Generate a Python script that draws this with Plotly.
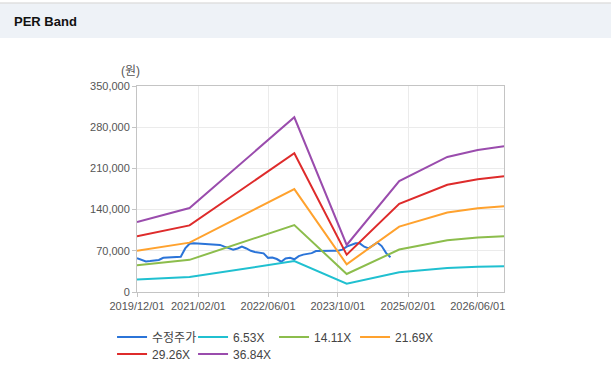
import plotly.graph_objects as go

# ---- data ----
band_dates = ["2019-12-01", "2020-12-01", "2022-12-01", "2023-12-01",
              "2024-12-01", "2025-11-01", "2026-06-01", "2026-12-01"]
band_653 = [21100, 25300, 52600, 14200, 33400, 40700, 42800, 43900]
band_1411 = [45600, 54600, 113700, 30600, 72200, 87900, 92400, 94800]
band_2169 = [70100, 83900, 174800, 47100, 111100, 135100, 142100, 145800]
band_2926 = [94500, 113200, 235800, 63500, 149800, 182300, 191700, 196600]
band_3684 = [119000, 142600, 296900, 79900, 188600, 229500, 241300, 247600]

price_dates = [f"{2019 + (11 + m) // 12}-{(11 + m) % 12 + 1:02d}-01" for m in range(59)]
price_values = [57300, 55000, 52000, 52500, 53500, 54500, 58000, 58500, 59000, 59000,
                60000, 74000, 82000, 83000, 82700, 82000, 81000, 81000, 81000, 80000,
                77000, 74500, 72000, 74000, 77000, 74000, 70000, 68000, 67000, 65700,
                58000, 58500, 56000, 51500, 57000, 58000, 55600, 61000, 63500, 65000,
                66000, 69500, 70000, 70200, 70200, 70200, 70200, 72000, 77000, 80000,
                82700, 82700, 77000, 74200, 79000, 84000, 78000, 66000, 59000]

x_tick_vals = ["2019-12-01", "2021-02-01", "2022-06-01", "2023-10-01", "2025-02-01", "2026-06-01"]
x_tick_text = ["2019/12/01", "2021/02/01", "2022/06/01", "2023/10/01", "2025/02/01", "2026/06/01"]
y_tick_vals = [0, 70000, 140000, 210000, 280000, 350000]

series = [
    ("수정주가", price_dates, price_values, "#2b74d8", "legend"),
    ("6.53X", band_dates, band_653, "#20c0d0", "legend"),
    ("14.11X", band_dates, band_1411, "#8cbd4c", "legend"),
    ("21.69X", band_dates, band_2169, "#ffa22e", "legend"),
    ("29.26X", band_dates, band_2926, "#de2b2b", "legend2"),
    ("36.84X", band_dates, band_3684, "#9a4cad", "legend2"),
]

FONT = "Liberation Sans, Arial, Noto Sans CJK KR, sans-serif"

fig = go.Figure()
for name, xs, ys, color, lg in series:
    fig.add_trace(go.Scatter(x=xs, y=ys, name=name, mode="lines", legend=lg,
                             line=dict(color=color, width=2)))

legend_common = dict(orientation="h", x=-0.068, xanchor="left", yanchor="middle",
                     entrywidth=36, entrywidthmode="pixels", itemwidth=30,
                     font=dict(family=FONT, size=12, color="#444"),
                     bgcolor="rgba(0,0,0,0)", borderwidth=0)

fig.update_layout(
    width=611, height=387,
    margin=dict(l=137, r=107, t=86, b=95),
    paper_bgcolor="white", plot_bgcolor="white",
    font=dict(family=FONT, size=11, color="#555"),
    showlegend=True,
    legend=dict(y=(292 - 337) / 206, **legend_common),
    legend2=dict(y=(292 - 354) / 206, **legend_common),
    title=dict(text="<b>PER Band</b>", x=14 / 611, xanchor="left", xref="container",
               y=1 - 21 / 387, yanchor="middle", yref="container",
               font=dict(family=FONT, size=13, color="#111")),
    shapes=[
        dict(type="rect", xref="paper", yref="paper",
             x0=-137 / 367 - 0.01, x1=474 / 367 + 0.01, y0=(292 - 38) / 206, y1=(292 - 3.5) / 206,
             fillcolor="#eef2f7", line=dict(width=0), layer="below"),
        dict(type="line", xref="paper", yref="paper",
             x0=-137 / 367 - 0.01, x1=474 / 367 + 0.01, y0=(292 - 3) / 206, y1=(292 - 3) / 206,
             line=dict(color="#d0d0d0", width=1)),
    ],
    annotations=[
        dict(text="(원)", xref="paper", yref="paper", x=-7 / 367, y=(292 - 71) / 206,
             xanchor="center", yanchor="middle", showarrow=False,
             font=dict(family=FONT, size=12, color="#555")),
    ],
)

fig.update_xaxes(type="date", range=["2019-12-01", "2026-12-01"],
                 tickvals=x_tick_vals, ticktext=x_tick_text,
                 showgrid=True, gridcolor="#ebebeb", gridwidth=1,
                 showline=True, linecolor="#c4c4c4", linewidth=1, mirror=True,
                 ticks="outside", ticklen=4, tickcolor="#c4c4c4",
                 tickfont=dict(size=11, color="#555"), zeroline=False)
fig.update_yaxes(range=[0, 350000], tickvals=y_tick_vals, tickformat=",d",
                 showgrid=True, gridcolor="#ebebeb", gridwidth=1,
                 showline=True, linecolor="#c4c4c4", linewidth=1, mirror=True,
                 ticks="outside", ticklen=4, tickcolor="#c4c4c4",
                 tickfont=dict(size=11, color="#555"), zeroline=False)

fig.write_html("out.html", config={"displayModeBar": False},
               post_script="document.body.style.margin='0';")
